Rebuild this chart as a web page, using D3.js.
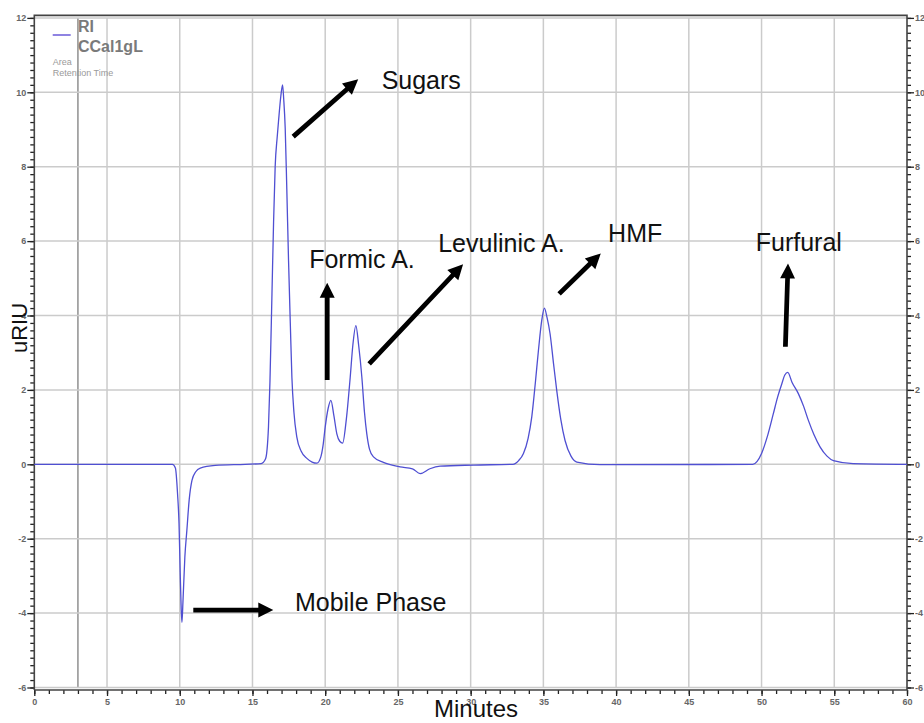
<!DOCTYPE html>
<html>
<head>
<meta charset="utf-8">
<script src="https://cdn.jsdelivr.net/npm/d3@7"></script>
<style>
  html, body { margin: 0; padding: 0; background: #fff; }
  svg { display: block; }
</style>
</head>
<body>
<svg class="chromatogram" width="924" height="723"></svg>
<script>
// chromatogram trace: [minutes, uRIU]
var trace = [
  [0, 0], [9.5, 0], [9.7, -0.1], [9.85, -0.8], [9.95, -1.6], [10.03, -2.9], [10.1, -3.9],
  [10.15, -4.25], [10.22, -3.7], [10.35, -2.5], [10.49, -1.77], [10.65, -0.95], [10.84, -0.43],
  [11.1, -0.2], [11.41, -0.1], [12.44, -0.03], [14.5, 0], [15.6, 0.02], [15.9, 0.15], [16.1, 1.0],
  [16.2, 2.2], [16.34, 4.58], [16.45, 6.5], [16.56, 8.0], [16.7, 8.8], [16.79, 9.22], [16.95, 9.9],
  [17.07, 10.2], [17.15, 9.8], [17.25, 9.04], [17.36, 7.4], [17.48, 5.47], [17.6, 3.8], [17.71, 2.34],
  [17.85, 1.4], [18.05, 0.73], [18.35, 0.35], [18.74, 0.16], [19.1, 0.06], [19.43, 0.03], [19.7, 0.2],
  [19.85, 0.5], [20.0, 1.0], [20.2, 1.5], [20.39, 1.72], [20.6, 1.3], [20.8, 0.82], [21.0, 0.62],
  [21.2, 0.57], [21.45, 1.2], [21.72, 2.34], [21.9, 3.2], [22.11, 3.73], [22.3, 3.2], [22.52, 2.34],
  [22.7, 1.4], [22.86, 0.82], [23.05, 0.4], [23.32, 0.2], [24.0, 0.05], [25.15, -0.07], [26.0, -0.12],
  [26.53, -0.25], [27.2, -0.12], [27.9, -0.05], [30.2, -0.02], [32.9, 0], [33.3, 0.1], [33.63, 0.29],
  [33.95, 0.7], [34.2, 1.27], [34.45, 2.2], [34.66, 3.06], [34.9, 3.9], [35.07, 4.2], [35.25, 3.95],
  [35.46, 3.51], [35.7, 2.7], [35.92, 1.98], [36.2, 1.2], [36.49, 0.64], [36.9, 0.22], [37.3, 0.06],
  [38.9, -0.01], [49.4, 0], [50.0, 0.29], [50.4, 0.75], [50.81, 1.36], [51.1, 1.8], [51.39, 2.16],
  [51.6, 2.4], [51.8, 2.47], [52.1, 2.2], [52.53, 1.9], [52.9, 1.55], [53.22, 1.18], [53.6, 0.8],
  [54.02, 0.47], [54.5, 0.22], [54.94, 0.1], [56.3, 0.02], [60, 0]
];

// peak annotations (label anchor + arrow tail/tip, in data units)
var peakNames = ["Sugars", "Formic A.", "Levulinic A.", "HMF", "Furfural", "Mobile Phase"];
var labelAt   = [[23.88, 10.09], [18.9, 5.27], [27.77, 5.72], [39.45, 5.98], [49.6, 5.74], [17.92, -3.94]];
var arrowFrom = [[17.8, 8.81], [20.14, 2.27], [23.02, 2.70], [36.08, 4.58], [51.64, 3.16], [10.93, -3.92]];
var arrowTo   = [[22.27, 10.35], [20.14, 4.88], [29.48, 5.38], [38.95, 5.67], [51.82, 5.40], [16.43, -3.92]];

var xTicks = [0, 5, 10, 15, 20, 25, 30, 35, 40, 45, 50, 55, 60];
var yTicks = [-6, -4, -2, 0, 2, 4, 6, 8, 10, 12];
var markerLine = 3;   // darker vertical line

var legendName = ["RI", "CCal1gL"];
var legendSub = ["Area", "Retention Time"];

var svg = d3.select("svg.chromatogram");
var x = d3.scaleLinear().domain([0, 60]).range([34.3, 907]);
var y = d3.scaleLinear().domain([-6, 12]).range([687.5, 17.9]);

/* grid */
svg.append("g").selectAll("line.vgrid")
  .data(xTicks.slice(1, -1))
  .enter().append("line")
  .attr("x1", function (d) { return x(d); }).attr("x2", function (d) { return x(d); })
  .attr("y1", y(12)).attr("y2", y(-6))
  .attr("stroke", "#cbcbcb").attr("stroke-width", 1.5);

svg.append("line")
  .attr("x1", x(markerLine)).attr("x2", x(markerLine))
  .attr("y1", y(12)).attr("y2", y(-6))
  .attr("stroke", "#7e7e7e").attr("stroke-width", 1.3);

svg.append("g").selectAll("line.hgrid")
  .data(yTicks)
  .enter().append("line")
  .attr("x1", x(0)).attr("x2", x(60))
  .attr("y1", function (d) { return y(d); }).attr("y2", function (d) { return y(d); })
  .attr("stroke", "#cbcbcb").attr("stroke-width", 1.5);

/* axes */
var minorY = d3.range(-6, 12.01, 0.2).map(function (v) { return +v.toFixed(1); });
var minorX = d3.range(0, 61, 1);

function fmt(d) { return d < 0 ? "-" + Math.abs(d) : d; }

var leftAxis = d3.axisLeft(y).tickValues(minorY).tickSize(4).tickFormat("");
var leftMajor = d3.axisLeft(y).tickValues(yTicks).tickSize(7).tickFormat(fmt);
var rightAxis = d3.axisRight(y).tickValues(minorY).tickSize(4).tickFormat("");
var rightMajor = d3.axisRight(y).tickValues(yTicks).tickSize(7).tickFormat(fmt);
var bottomAxis = d3.axisBottom(x).tickValues(minorX).tickSize(4).tickFormat("");
var bottomMajor = d3.axisBottom(x).tickValues(xTicks).tickSize(6).tickFormat(fmt);

function styleAxis(g) {
  g.select(".domain").remove();
  g.selectAll(".tick line").attr("stroke", "#222").attr("stroke-width", 1.3);
  g.selectAll(".tick text")
    .attr("font-family", "Liberation Sans, Arial, sans-serif")
    .attr("font-size", 9).attr("font-weight", "bold").attr("fill", "#666");
}

svg.append("g").attr("transform", "translate(" + x(0) + ",0)").call(leftAxis).call(styleAxis);
svg.append("g").attr("transform", "translate(" + x(0) + ",0)").call(leftMajor).call(styleAxis)
  .selectAll(".tick text").attr("x", -8);
svg.append("g").attr("transform", "translate(" + x(60) + ",0)").call(rightAxis).call(styleAxis);
svg.append("g").attr("transform", "translate(" + x(60) + ",0)").call(rightMajor).call(styleAxis)
  .selectAll(".tick text").attr("x", 8);
svg.append("g").attr("transform", "translate(0," + (y(-6) + 2.5) + ")").call(bottomAxis).call(styleAxis);
svg.append("g").attr("transform", "translate(0," + (y(-6) + 2.5) + ")").call(bottomMajor).call(styleAxis)
  .selectAll(".tick text").attr("y", 9);

/* frame */
svg.append("path")
  .attr("d", "M" + x(0) + "," + (y(-6) + 2.5) + "V" + (y(12) - 2.5) + "H" + x(60) + "V" + (y(-6) + 2.5) + "H" + x(0))
  .attr("fill", "none").attr("stroke", "#444").attr("stroke-width", 1.6);

/* trace */
var line = d3.line()
  .x(function (d) { return x(d[0]); })
  .y(function (d) { return y(d[1]); })
  .curve(d3.curveMonotoneX);

svg.append("path")
  .datum(trace)
  .attr("d", line)
  .attr("fill", "none")
  .attr("stroke", "#4f4fd2")
  .attr("stroke-width", 1.3);

/* legend */
svg.append("line")
  .attr("x1", 52.7).attr("x2", 70.7).attr("y1", 35).attr("y2", 35)
  .attr("stroke", "#6a5ad8").attr("stroke-width", 1.5);
svg.selectAll("text.legend-name")
  .data(legendName)
  .enter().append("text")
  .attr("class", "legend-name")
  .attr("x", 78).attr("y", function (d, i) { return 32 + i * 19.5; })
  .attr("font-family", "Liberation Sans, Arial, sans-serif")
  .attr("font-size", 16).attr("font-weight", "bold").attr("fill", "#7a7a7a")
  .text(function (d) { return d; });
svg.selectAll("text.legend-sub")
  .data(legendSub)
  .enter().append("text")
  .attr("class", "legend-sub")
  .attr("x", 52.7).attr("y", function (d, i) { return 65 + i * 11; })
  .attr("font-family", "Liberation Sans, Arial, sans-serif")
  .attr("font-size", 9).attr("fill", "#9a9a9a")
  .text(function (d) { return d; });

/* annotations */
function arrowPoints(d, i) {
  var x1 = x(arrowFrom[i][0]), y1 = y(arrowFrom[i][1]);
  var x2 = x(arrowTo[i][0]), y2 = y(arrowTo[i][1]);
  var len = Math.sqrt((x2 - x1) * (x2 - x1) + (y2 - y1) * (y2 - y1));
  var ux = (x2 - x1) / len, uy = (y2 - y1) / len;
  var nx = -uy, ny = ux;
  var head = 15, hw = 7.5, sw = 2.4;
  var bx = x2 - ux * head, by = y2 - uy * head;
  var pts = [
    [x1 + nx * sw, y1 + ny * sw],
    [bx + nx * sw, by + ny * sw],
    [bx + nx * hw, by + ny * hw],
    [x2, y2],
    [bx - nx * hw, by - ny * hw],
    [bx - nx * sw, by - ny * sw],
    [x1 - nx * sw, y1 - ny * sw]
  ];
  return pts.map(function (p) { return p[0].toFixed(1) + "," + p[1].toFixed(1); }).join(" ");
}

svg.selectAll("polygon.arrow")
  .data(peakNames)
  .enter().append("polygon")
  .attr("class", "arrow")
  .attr("points", arrowPoints)
  .attr("fill", "#000");

svg.selectAll("text.peak")
  .data(peakNames)
  .enter().append("text")
  .attr("class", "peak")
  .attr("x", function (d, i) { return x(labelAt[i][0]); })
  .attr("y", function (d, i) { return y(labelAt[i][1]); })
  .attr("font-family", "Liberation Sans, Arial, sans-serif")
  .attr("font-size", 25).attr("fill", "#111")
  .text(function (d) { return d; });

/* axis titles */
svg.append("text")
  .attr("x", 476).attr("y", 717)
  .attr("text-anchor", "middle")
  .attr("font-family", "Liberation Sans, Arial, sans-serif")
  .attr("font-size", 24).attr("fill", "#111")
  .text("Minutes");

svg.append("text")
  .attr("transform", "translate(27,328) rotate(-90)")
  .attr("text-anchor", "middle")
  .attr("font-family", "Liberation Sans, Arial, sans-serif")
  .attr("font-size", 22).attr("fill", "#111")
  .text("uRIU");
</script>
</body>
</html>
